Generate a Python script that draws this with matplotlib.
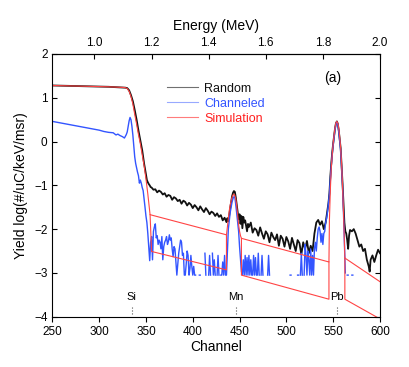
import matplotlib
matplotlib.use("Agg")
import matplotlib.pyplot as plt
import numpy as np
from matplotlib.lines import Line2D

plt.rcParams['font.family'] = ['Liberation Sans', 'DejaVu Sans']

nan = np.nan

# ---- Random (black) ----
rand_ch = [250, 260, 270, 280, 290, 300, 310, 320, 326, 328, 330, 332, 334, 336, 338, 340, 342, 344,
           345, 346, 347, 348, 349, 350, 351, 352, 353, 354, 355,
           356, 358, 360, 362, 364, 366, 368, 370, 372, 374, 376, 378, 380, 382, 384, 386, 388, 390,
           392, 394, 396, 398, 400, 402, 404, 406, 408, 410, 412, 414, 416, 418, 420, 422, 424, 426,
           428, 430, 432, 434, 436,
           437, 438, 439, 440, 441, 442, 443, 444, 445, 446, 447, 448, 449, 450, 451, 452, 453, 454,
           455, 456, 458, 459, 460, 462, 464, 466, 468, 470, 472, 474, 476, 478, 480, 482, 484, 486,
           488, 490, 492, 494, 496, 498, 500, 502, 504, 506, 508, 510, 512, 514, 516, 518, 520, 522,
           524, 526, 528, 530, 532, 534, 536, 538, 540, 542, 543, 544,
           545, 546, 547, 548, 549, 550, 551, 552, 553, 554, 555, 556, 557, 558, 559, 560, 561, 562,
           563, 564, 565, 566, 567, 568, 570, 572, 574, 576, 578, 580, 582, 584, 586, 588, 589, 590,
           592, 594, 596, 598, 600]
rand_y = [1.28, 1.275, 1.27, 1.265, 1.26, 1.255, 1.25, 1.24, 1.235, 1.23, 1.22, 1.17, 1.06, 0.92, 0.72, 0.50, 0.25, 0.02,
          -0.10, -0.20, -0.35, -0.50, -0.62, -0.75, -0.88, -0.93, -0.97, -1.00, -1.04,
          -1.05, -1.10, -1.09, -1.16, -1.12, -1.15, -1.21, -1.18, -1.26, -1.22, -1.24, -1.33, -1.27, -1.30, -1.36, -1.33, -1.42, -1.35,
          -1.38, -1.46, -1.40, -1.44, -1.52, -1.45, -1.50, -1.57, -1.48, -1.55, -1.61, -1.52, -1.58, -1.66, -1.60, -1.63, -1.70, -1.64,
          -1.72, -1.68, -1.80, -1.74, -1.84,
          -1.75, -1.82, -1.68, -1.52, -1.38, -1.25, -1.17, -1.13, -1.15, -1.28, -1.45, -1.62, -1.78, -1.66, -1.88, -1.70, -1.98, -1.72,
          -1.85, -1.80, -2.05, -1.88, -1.95, -1.85, -2.08, -1.98, -2.02, -2.15, -1.96, -2.10, -2.22, -2.05, -2.12, -2.30, -2.08, -2.18,
          -2.25, -2.12, -2.38, -2.15, -2.22, -2.40, -2.18, -2.28, -2.45, -2.20, -2.35, -2.50, -2.25, -2.32, -2.58, -2.30, -2.45, -2.27,
          -2.55, -2.38, -2.50, -2.10, -1.85, -1.79, -1.90, -1.82, -2.00, -1.85, -1.70, -1.55,
          -1.40, -1.18, -0.80, -0.50, -0.25, -0.05, 0.12, 0.30, 0.42, 0.46, 0.40, 0.25, 0.05, -0.15, -0.55, -0.95, -1.40, -1.85,
          -2.05, -2.10, -2.25, -2.45, -2.15, -2.02, -2.05, -2.00, -2.10, -2.25, -2.40, -2.35, -2.50, -2.45, -2.70, -2.85, -2.97, -2.70,
          -2.60, -2.75, -2.60, -2.47, -2.55]

# ---- Channeled (blue) ----
chan_ch_a = [250, 260, 270, 280, 290, 300, 305, 310, 315, 318, 320, 322, 325, 327, 328, 329]
chan_y_a = [0.46, 0.42, 0.38, 0.34, 0.30, 0.26, 0.23, 0.21, 0.20, 0.15, 0.17, 0.14, 0.11, 0.08, 0.12, 0.16]
chan_start = 330  # channel of first value in chan_y_b, one value per channel
chan_y_b = [0.22, 0.35, 0.47, 0.55, 0.50, 0.35, 0.15, -0.10, -0.35, -0.50,                    # 330-339
            -0.60, -0.70, -0.78, -0.95, -0.88, -0.95, -1.05, -1.12, -1.30, -1.50,             # 340-349
            -1.70, -1.85, -2.10, -2.40, -2.72, -2.30, -2.17, -2.70, -2.05, -1.95,             # 350-359
            -1.88, -2.20, -2.15, -2.35, -2.25, -2.30, -2.45, -2.17, -2.70, -2.40,             # 360-369
            -2.30, -2.25, -2.17, -2.35, -2.28, -2.13, -2.25, -2.20, -2.45, -2.63,             # 370-379
            -2.40, -2.45, -2.75, -3.05, -2.80, -2.55, -2.40, -2.25, -2.30, -2.60,             # 380-389
            -2.55, -3.05, -3.05, -2.80, -2.50, -2.60, -3.05, -2.90, -2.60, -2.85,             # 390-399
            -3.05, -2.85, -3.05, -3.05, nan, -3.05, nan, -3.05, -3.05, nan,                   # 400-409
            nan, -3.05, nan, -2.55, -3.05, nan, nan, -3.05, -2.60, -3.05,                     # 410-419
            nan, -2.55, -3.05, -2.70, -3.05, nan, -3.05, -2.60, -3.05, nan,                   # 420-429
            -3.05, -3.05, -2.75, -3.05, -2.60, -3.05, -3.05, -2.50, -2.00, -1.80,             # 430-439
            -1.62, -1.50, -1.38, -1.30, -1.26, -1.28, -1.45, -1.65, -1.85, -2.05,             # 440-449
            -2.40, -2.70, -2.97, -3.05, -2.70, -3.05, -2.60, -3.05, -2.65, -3.05,             # 450-459
            -2.60, -3.05, -2.70, -3.05, -3.05, -2.60, -3.05, -2.65, -3.05, -3.05,             # 460-469
            -2.55, -3.05, nan, -3.05, -2.60, -3.05, nan, nan, nan, nan,                       # 470-479
            -3.05, -2.60, -3.05, nan, nan, nan, nan, nan, nan, nan,                           # 480-489
            nan, nan, nan, nan, nan, nan, nan, nan, nan, nan,                                 # 490-499
            nan, nan, nan, nan, -3.05, -3.05, nan, -3.05, nan, nan,                           # 500-509
            nan, nan, -3.05, -3.05, nan, -3.05, -2.55, -3.05, nan, -3.05,                     # 510-519
            -2.35, -2.60, -3.05, -2.50, -2.70, -3.05, -2.45, -3.05, -2.60, -3.05,             # 520-529
            -2.45, -2.30, -2.50, -2.20, -2.00, -1.95, -2.05, -2.30, -2.10, -2.35,             # 530-539
            -2.10, -2.05, -1.85, -1.75, -1.60, -1.40, -1.20, -0.85, -0.55, -0.30,             # 540-549
            -0.08, 0.10, 0.28, 0.40, 0.45, 0.38, 0.22, 0.00, -0.20, -0.60,                    # 550-559
            -1.00, -1.60, -2.30, -3.00, nan, -3.05, -3.05, nan, -3.05, nan,                   # 560-569
            -3.05, -3.05, nan]                                                                # 570-572

# ---- Simulation (red) ----
sim_ch = [250, 270, 290, 310, 326, 328, 330, 332, 334, 336, 338, 340, 342, 344, 346, 348, 350, 352,
          354.4, 436, 437, 438, 439, 440, 441, 442, 443, 444, 445, 446, 447, 448, 449, 450, 451, 452,
          545.5, 546, 547, 548, 549, 550, 551, 552, 553, 554, 555, 556, 557, 558, 559, 560, 561, 562,
          562.5, 600]
sim_y = [1.28, 1.27, 1.26, 1.25, 1.235, 1.23, 1.21, 1.15, 1.03, 0.86, 0.62, 0.40, 0.16, -0.05, -0.30, -0.55, -0.85, -1.20,
         -1.67, -2.13, -1.95, -1.75, -1.58, -1.45, -1.35, -1.27, -1.22, -1.20, -1.23, -1.32, -1.48, -1.68, -1.90, -2.05, -2.15, -2.21,
         -2.75, -1.80, -1.10, -0.60, -0.30, -0.05, 0.15, 0.32, 0.43, 0.46, 0.42, 0.30, 0.10, -0.15, -0.50, -1.00, -1.60, -2.30,
         -2.66, -3.20]
# channeled simulation background (joins the peaks above)
sim2_ch = [354.4, 356, 436, 436, nan, 452, 452, 545.5, 545.5, nan, 562.5, 562.5, 600]
sim2_y = [-1.67, -2.51, -2.93, -2.13, nan, -2.21, -3.05, -3.60, -2.75, nan, -2.66, -3.60, -4.05]

markers = ["Si", "Mn", "Pb"]
marker_ch = [335, 446, 554]

black = "#111111"
blue = "#3355ff"
red = "#ff4444"

chan_ch = chan_ch_a + list(range(chan_start, chan_start + len(chan_y_b)))
chan_y = chan_y_a + chan_y_b

fig = plt.figure(figsize=(4.09, 3.67), dpi=100)
ax = fig.add_axes([0.128, 0.137, 0.801, 0.716])

ax.plot(rand_ch, rand_y, color=black, lw=1.3)
ax.plot(chan_ch, chan_y, color=blue, lw=1.0)
ax.plot(sim_ch, sim_y, color=red, lw=0.8)
ax.plot(sim2_ch, sim2_y, color=red, lw=0.8)

for name, c in zip(markers, marker_ch):
    ax.text(c, -3.55, name, ha="center", va="center", fontsize=8)
    ax.plot([c, c], [-3.77, -3.97], color="#555555", lw=0.8, ls=":")

ax.text(550, 1.46, "(a)", ha="center", va="center", fontsize=10)

ax.set_xlim(250, 600)
ax.set_ylim(-4, 2)
ax.set_xticks(np.arange(250, 601, 50))
ax.set_yticks(np.arange(-4, 3, 1))
ax.tick_params(axis="x", direction="out", length=3.5, labelsize=8.5, top=False)
ax.tick_params(axis="y", direction="in", length=3.5, labelsize=8.5, right=True)
ax.set_xlabel("Channel", fontsize=10, labelpad=1)
ax.set_ylabel("Yield log(#/uC/keV/msr)", fontsize=10, labelpad=4)


def ch2e(c):
    return 1.0 + (np.asarray(c) - 295.0) / 305.0


def e2ch(e):
    return 295.0 + (np.asarray(e) - 1.0) * 305.0


top = ax.secondary_xaxis("top", functions=(ch2e, e2ch))
top.set_xticks(np.arange(1.0, 2.01, 0.2))
top.set_xticklabels([f"{v:.1f}" for v in np.arange(1.0, 2.01, 0.2)])
top.tick_params(direction="in", length=3.5, labelsize=8.5)
top.set_xlabel("Energy (MeV)", fontsize=10, labelpad=5)

handles = [Line2D([], [], color=black, lw=0.8, alpha=0.6),
           Line2D([], [], color=blue, lw=0.8, alpha=0.5),
           Line2D([], [], color=red, lw=0.8, alpha=0.7)]
ax.legend(handles, ["Random", "Channeled", "Simulation"], loc="upper left",
          bbox_to_anchor=(0.33, 0.915), frameon=False, fontsize=9,
          handlelength=2.5, handletextpad=0.5, labelspacing=0.25, borderpad=0,
          labelcolor=[black, blue, "#ff2020"])

fig.savefig("out.png", dpi=100)
